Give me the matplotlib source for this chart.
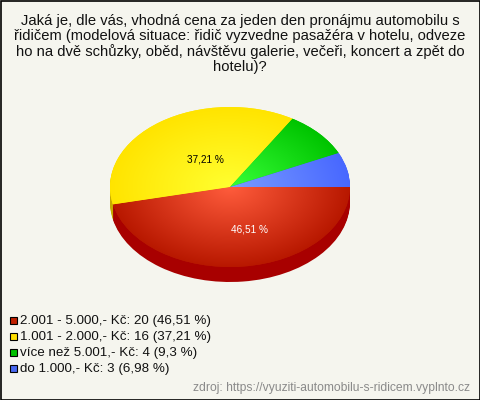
import numpy as np
import matplotlib
matplotlib.use("Agg")
import matplotlib.pyplot as plt
from matplotlib.colors import LinearSegmentedColormap
from matplotlib.patches import Rectangle

plt.rcParams['font.family'] = ['Liberation Sans', 'DejaVu Sans']

title_lines = ["Jaká je, dle vás, vhodná cena za jeden den pronájmu automobilu s",
               "řidičem (modelová situace: řidič vyzvedne pasažéra v hotelu, odveze",
               "ho na dvě schůzky, oběd, návštěvu galerie, večeři, koncert a zpět do",
               "hotelu)?"]
categories = ["2.001 - 5.000,- Kč", "1.001 - 2.000,- Kč", "více než 5.001,- Kč", "do 1.000,- Kč"]
counts = [20, 16, 4, 3]
percents = ["46,51", "37,21", "9,3", "6,98"]
source = "zdroj: https://vyuziti-automobilu-s-ridicem.vyplnto.cz"

inner_colors = ["#ff5c3c", "#ffff30", "#38ff38", "#7a9cff"]
outer_colors = ["#b81800", "#ffe400", "#00c400", "#4868ff"]
side_colors = ["#a80000", "#c8aa00", "#009000", "#3040c0"]
legend_colors = ["#c02000", "#ffe000", "#00c000", "#4868f0"]

BG = "#f5f5ee"
W, H = 480, 400
fig = plt.figure(figsize=(4.8, 4.0), dpi=100, facecolor=BG)

# pie axes: centre (230,187), rx 120, ry 80, depth 15 px
L, R, T, B = 100, 360, 100, 300
cx, cy, rx, ry, depth = 230, 187, 120, 80, 15
ax = fig.add_axes([L / W, 1 - B / H, (R - L) / W, (B - T) / H])
xlim = ((L - cx) / rx, (R - cx) / rx)
ylim = ((cy - B) / ry, (cy - T) / ry)

# extruded side: stacked pies
for d in range(depth, 0, -1):
    wedges, _ = ax.pie(counts, startangle=0, counterclock=False, radius=1,
                       center=(0, -d / ry), colors=side_colors,
                       wedgeprops=dict(linewidth=0))
    for w in wedges:
        w.set_zorder(1)

# top face with radial gradient clipped by wedges
wedges, _ = ax.pie(counts, startangle=0, counterclock=False, radius=1,
                   center=(0, 0), colors=outer_colors,
                   wedgeprops=dict(linewidth=0))
gy, gx = np.mgrid[-1:1:400j, -1:1:400j]
dist = np.clip(np.hypot(gx, gy), 0, 1)
for w, c0, c1 in zip(wedges, inner_colors, outer_colors):
    w.set_zorder(2)
    cmap = LinearSegmentedColormap.from_list("g", [c0, c1])
    im = ax.imshow(dist, extent=(-1, 1, -1, 1), origin="lower", cmap=cmap,
                   vmin=0, vmax=1, aspect="auto", zorder=3, interpolation="bilinear")
    im.set_clip_path(w)

ax.set_xlim(*xlim)
ax.set_ylim(*ylim)
ax.set_aspect("auto")
ax.axis("off")
ax.patch.set_alpha(0)


def ptext(x, y, s, **kw):
    return fig.text(x / W, 1 - y / H, s, va="center", **kw)


for y, line in zip([20.5, 36, 51.5, 66.5], title_lines):
    ptext(240, y, line, ha="center", fontsize=10.6, color="#111111")

ptext(205.5, 159, f"{percents[1]} %", ha="center", fontsize=7.2, color="black", zorder=10)
ptext(249.5, 230, f"{percents[0]} %", ha="center", fontsize=7.2, color="white", zorder=10)

for i, (cat, n, p, col) in enumerate(zip(categories, counts, percents, legend_colors)):
    y = 320 + i * 16
    fig.add_artist(Rectangle((9.5 / W, 1 - (y + 3.5) / H), 7 / W, 7 / H,
                             transform=fig.transFigure, facecolor=col,
                             edgecolor="black", linewidth=0.8))
    ptext(20, y + 1, f"{cat}: {n} ({p} %)", ha="left", fontsize=9.65, color="#111111")

ptext(470, 387.5, source, ha="right", fontsize=8.7, color="#8a8a8a")

fig.add_artist(Rectangle((0.5 / W, 0.5 / H), (W - 1) / W, (H - 1) / H,
                         transform=fig.transFigure, facecolor="none",
                         edgecolor="black", linewidth=1.2))
fig.savefig("out.png", dpi=100, facecolor=BG)
